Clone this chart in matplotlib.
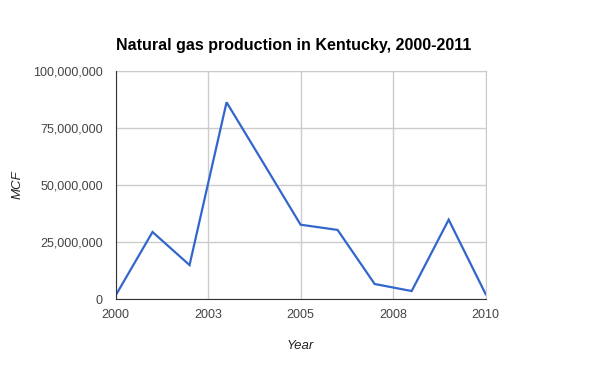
#!/usr/bin/env python3
"""Natural gas production in Kentucky, line chart in the Google Charts look."""

import matplotlib
matplotlib.use("Agg")
import matplotlib.pyplot as plt
from matplotlib.ticker import FuncFormatter

# data
years = [2000, 2001, 2002, 2003, 2004, 2005, 2006, 2007, 2008, 2009, 2010]
production_mcf = [1450000, 29400000, 14900000, 86300000, 59500000, 32600000,
                  30300000, 6600000, 3500000, 34800000, 2100000]

x_ticks = [2000, 2002.5, 2005, 2007.5, 2010]
x_tick_labels = ["2000", "2003", "2005", "2008", "2010"]
y_ticks = [0, 25000000, 50000000, 75000000, 100000000]

plt.rcParams["font.family"] = ["Liberation Sans", "DejaVu Sans"]

fig = plt.figure(figsize=(6, 3.71), dpi=100)
ax = fig.add_axes([0.1925, 0.194, 0.617, 0.6146])

ax.plot(years, production_mcf, color="#3366cc", linewidth=1.6, solid_joinstyle="miter")

ax.set_xlim(2000, 2010)
ax.set_ylim(0, 100000000)
ax.set_xticks(x_ticks)
ax.set_xticklabels(x_tick_labels)
ax.set_yticks(y_ticks)
ax.yaxis.set_major_formatter(FuncFormatter(lambda v, p: f"{int(v):,}"))

ax.grid(True, color="#cccccc", linewidth=1)
ax.set_axisbelow(True)
ax.tick_params(length=0, labelsize=9, labelcolor="#444444")
ax.tick_params(axis="y", pad=9)
ax.tick_params(axis="x", pad=7)

for side in ("top", "right"):
    ax.spines[side].set_color("#cccccc")
for side in ("left", "bottom"):
    ax.spines[side].set_color("#333333")
    ax.spines[side].set_zorder(3)

ax.set_xlabel("Year", fontsize=9.5, style="italic", color="#222222", labelpad=14)
ax.set_ylabel("MCF", fontsize=9.5, style="italic", color="#222222")
ax.yaxis.set_label_coords(-0.247, 0.5)

ax.set_title("Natural gas production in Kentucky, 2000-2011", loc="left",
             fontsize=11.5, fontweight="bold", color="#000000", pad=15)

fig.savefig("out.png", dpi=100)
